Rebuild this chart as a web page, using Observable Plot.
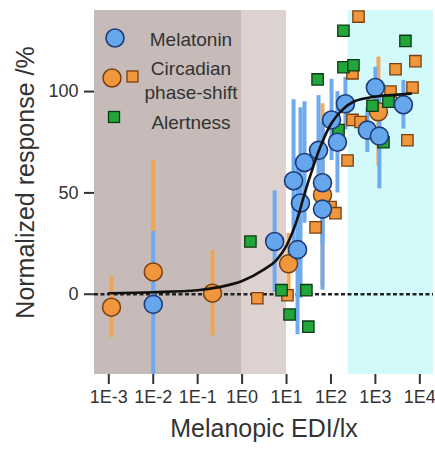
<!DOCTYPE html>
<html><head><meta charset="utf-8">
<script src="https://cdn.jsdelivr.net/npm/d3@7"></script>
<script src="https://cdn.jsdelivr.net/npm/@observablehq/plot@0.6"></script>
<style>
body{margin:0;background:#fff;font-family:"Liberation Sans",Arial,sans-serif;}
#wrap{position:relative;width:435px;height:450px;}
#legend{position:absolute;left:0;top:0;pointer-events:none;}
</style></head><body><div id="wrap"></div>
<script>
// Melatonin (blue circles): lux, normalized response, error half-width
const melLux  = [0.01, 5.4, 17.7, 20.6, 64.5, 14.4, 64.5, 25.4, 52.5, 140, 103, 212, 1000, 660, 1230, 4270];
const melResp = [-5, 26, 22, 45, 42, 56, 55, 65, 71, 75, 86, 94, 102, 81, 78, 93.5];
const melErr  = [36, 25, 42, 47, 40, 40, 30, 30, 27, 25, 20, 13, 10, 11, 26, 12];
// Circadian phase-shift (orange circles)
const phcLux  = [0.00115, 0.01, 0.216, 11.1, 64.5, 1170];
const phcResp = [-6.4, 11, 0.5, 15, 49, 90];
const phcErr  = [15, 55, 21, 15, 45, 27];
// Circadian phase-shift (orange squares)
const phsLux  = [2.2, 10.5, 45, 98, 126, 236, 305, 462, 417, 305, 2190, 2840, 6840, 7950, 5250];
const phsResp = [-2, -0.5, 33, 43, 40, 66, 86, 85, 137, 109, 100, 111, 102, 115, 76];
// Alertness (green squares)
const alLux   = [1.54, 7.7, 28, 11.7, 31, 50, 191, 191, 321, 4750, 1970, 1520, 860, 148];
const alResp  = [26, 2, 2, -10, -16, 106, 130, 112, 113, 125, 95, 75, 93, 81];
// Fitted curve
const fitLux  = [0.001, 0.01, 0.1, 0.3, 1, 3, 6, 10, 18, 25, 40, 56, 100, 180, 320, 1000, 3200, 6300];
const fitResp = [0.5, 1, 2, 3.5, 6.5, 12, 17, 24, 38, 49, 63, 72, 84, 91, 95, 97.5, 98.5, 99];
// Shaded light ranges (lux)
const bandFrom  = [null, 1, 245];
const bandTo    = [1, 10, null];
const bandColor = ["#c6bbb8", "#ddd2d0", "#d3fafa"];
const xTicks = [1e-3, 1e-2, 1e-1, 1e0, 1e1, 1e2, 1e3, 1e4];
const yTicks = [0, 50, 100];
const xDomain = [Math.pow(10, -3.322), Math.pow(10, 4.308)];
const yDomain = [-39.6, 140];

const zip = (xs, ys, es) => xs.map((x, i) => ({x, y: ys[i], e: es ? es[i] : 0}));
const mel = zip(melLux, melResp, melErr);
const phc = zip(phcLux, phcResp, phcErr);
const phs = zip(phsLux, phsResp);
const al = zip(alLux, alResp);
const fit = zip(fitLux, fitResp);
const bands = bandFrom.map((f, i) => ({x1: f ?? xDomain[0], x2: bandTo[i] ?? xDomain[1], fill: bandColor[i]}));

const blueFill = "#66a6ec", blueStroke = "#1d3b78";
const orFill = "#f0963c", orStroke = "#7a3f0c";
const grFill = "#22a53a", grStroke = "#0c3a12";

const plot = Plot.plot({
  width: 435, height: 450,
  marginLeft: 94, marginRight: 2, marginTop: 10, marginBottom: 76,
  style: {fontFamily: "'Liberation Sans', Arial, sans-serif", fontSize: "18px", color: "#333", background: "white"},
  x: {type: "log", domain: xDomain},
  y: {domain: yDomain},
  marks: [
    Plot.rect(bands, {x1: "x1", x2: "x2", fill: "fill"}),
    Plot.ruleY([0], {stroke: "#222", strokeWidth: 2.5, strokeDasharray: "4,2.5"}),
    Plot.ruleX(phc, {x: "x", y1: d => d.y - d.e, y2: d => d.y + d.e, stroke: "#f4a24c", strokeWidth: 4, strokeOpacity: 0.9, clip: true}),
    Plot.ruleX(mel, {x: "x", y1: d => d.y - d.e, y2: d => d.y + d.e, stroke: "#6eaaf0", strokeWidth: 4, clip: true}),
    Plot.dot(phc, {x: "x", y: "y", r: 9, fill: orFill, stroke: orStroke, strokeWidth: 1.5}),
    Plot.dot(phs, {x: "x", y: "y", r: 6.4, symbol: "square", fill: orFill, stroke: orStroke, strokeWidth: 1.3}),
    Plot.dot(al, {x: "x", y: "y", r: 6.4, symbol: "square", fill: grFill, stroke: grStroke, strokeWidth: 1.3}),
    Plot.dot(mel, {x: "x", y: "y", r: 9, fill: blueFill, stroke: blueStroke, strokeWidth: 1.6}),
    Plot.line(fit, {x: "x", y: "y", curve: "monotone-x", stroke: "#111", strokeWidth: 2.6}),
    Plot.axisX({ticks: xTicks, tickFormat: d => "1E" + Math.round(Math.log10(d)), tickSize: 10, tickPadding: 6, strokeWidth: 2, line: true, label: null}),
    Plot.axisY({ticks: yTicks, tickSize: 10, tickPadding: 6, strokeWidth: 2, line: true, label: null}),
    Plot.text(["Melanopic EDI/lx"], {frameAnchor: "bottom", dy: 62, fontSize: 25, fill: "#333"}),
    Plot.text(["Normalized response /%"], {frameAnchor: "left", textAnchor: "middle", dx: -69, dy: -10, rotate: -90, fontSize: 25, fill: "#333"})
  ]
});
const wrap = document.getElementById("wrap");
wrap.appendChild(plot);

// Legend overlay
const lg = d3.select(wrap).append("svg").attr("id", "legend").attr("width", 435).attr("height", 450)
  .style("font-family", "'Liberation Sans', Arial, sans-serif");
lg.append("circle").attr("cx", 115).attr("cy", 38).attr("r", 9).attr("fill", blueFill).attr("stroke", blueStroke).attr("stroke-width", 1.6);
lg.append("circle").attr("cx", 112).attr("cy", 78).attr("r", 9).attr("fill", orFill).attr("stroke", orStroke).attr("stroke-width", 1.5);
lg.append("rect").attr("x", 127).attr("y", 71).attr("width", 11).attr("height", 11).attr("fill", orFill).attr("stroke", orStroke).attr("stroke-width", 1.3);
lg.append("rect").attr("x", 108.5).attr("y", 111.5).attr("width", 11).attr("height", 11).attr("fill", grFill).attr("stroke", grStroke).attr("stroke-width", 1.3);
const labels = [["Melatonin", 46], ["Circadian", 75], ["phase-shift", 99], ["Alertness", 129]];
labels.forEach(([t, y]) => lg.append("text").attr("x", 191).attr("y", y).attr("text-anchor", "middle")
  .attr("font-size", 19).attr("fill", "#333").text(t));
</script></body></html>
